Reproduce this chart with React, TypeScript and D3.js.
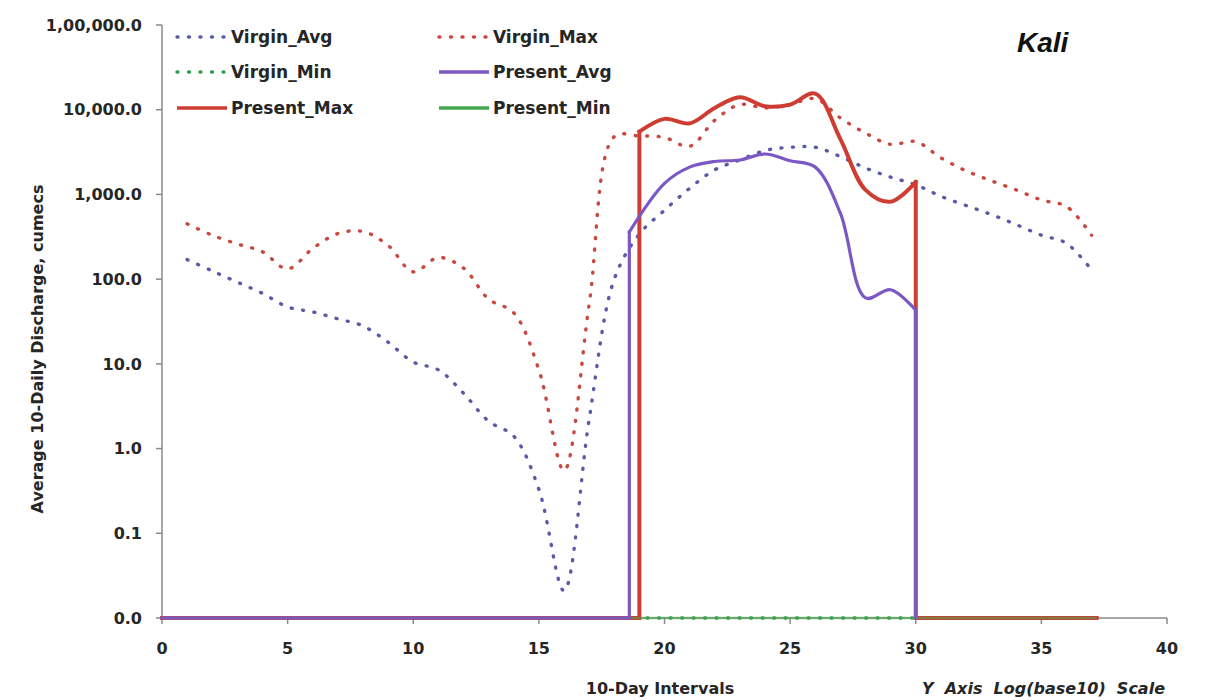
import React from "react";
import * as d3 from "d3";

// 10-day interval index (x) for the virgin-flow record
const intervals = [1, 2, 3, 4, 5, 6, 7, 8, 9, 10, 11, 12, 13, 14, 15, 16, 17, 18, 19, 20,
  21, 22, 23, 24, 25, 26, 27, 28, 29, 30, 31, 32, 33, 34, 35, 36, 37];

// Average 10-daily discharge, cumecs
const virginAvg = [170, 125, 92, 68, 47, 41, 34, 28, 18, 10.5, 8.5, 4.5, 2.1, 1.4, 0.33, 0.021, 2.2, 100,
  340, 650, 1180, 1950, 2550, 3300, 3600, 3600, 2800, 2050, 1600, 1300, 950, 740, 580, 440, 330, 265, 128];
const virginMax = [450, 330, 260, 210, 132, 230, 345, 365, 250, 122, 180, 135, 58, 40, 8.5, 0.55, 50, 4800,
  4900, 4700, 3700, 7500, 11500, 10500, 11500, 13500, 8000, 5300, 3900, 4200, 2700, 1900, 1450, 1130, 860, 720, 330];
const virginMin = [0, 0, 0, 0, 0, 0, 0, 0, 0, 0, 0, 0, 0, 0, 0, 0, 0, 0, 0, 0,
  0, 0, 0, 0, 0, 0, 0, 0, 0, 0, 0, 0, 0, 0, 0, 0, 0];

// Present-day record: flows only between onset and interval 30, zero elsewhere
const presentSpan = [0, 37.2];
const presentAvgX = [18.6, 20, 21, 22, 23, 24, 25, 26, 27, 28, 29, 30];
const presentAvg = [360, 1350, 2100, 2450, 2550, 3000, 2500, 2100, 600, 60, 75, 43];
const presentMaxX = [19, 20, 21, 22, 23, 24, 25, 26, 27, 28, 29, 30];
const presentMax = [5500, 7800, 6900, 10500, 14000, 11000, 11500, 15500, 4500, 1130, 820, 1400];

const yTickValues = [100000, 10000, 1000, 100, 10, 1, 0.1, 0.01];
const yTickLabels = ["1,00,000.0", "10,000.0", "1,000.0", "100.0", "10.0", "1.0", "0.1", "0.0"];
const xTickValues = [0, 5, 10, 15, 20, 25, 30, 35, 40];

const W = 1209;
const H = 700;
const FONT = "'DejaVu Sans', sans-serif";

const C = {
  virginAvg: "#5a5aa8",
  virginMax: "#c8473f",
  virginMin: "#2f9e48",
  presentAvg: "#7b58c4",
  presentMax: "#cf3d32",
  presentMin: "#45a84f",
  axis: "#8a8a8a",
  text: "#262626",
};

const DOT = { strokeWidth: 3.4, strokeDasharray: "1 10.5", strokeLinecap: "round" as const };

export default function App() {
  const x = d3.scaleLinear().domain([0, 40]).range([162, 1167]);
  const y = d3.scaleLog().domain([0.01, 100000]).range([618, 25]).clamp(true);
  const yFloor = y(0.01);
  const yv = (v: number) => y(Math.max(v, 0.01));

  const smooth = d3
    .line<[number, number]>()
    .x((d) => x(d[0]))
    .y((d) => yv(d[1]))
    .curve(d3.curveCatmullRom.alpha(0.5));
  const straight = d3
    .line<[number, number]>()
    .x((d) => x(d[0]))
    .y((d) => yv(d[1]));

  const pairs = (xs: number[], vs: number[]) => xs.map((xx, i) => [xx, vs[i]] as [number, number]);

  // zero flow until onset, a jump, the smoothed flood season, a drop back to zero
  const presentPath = (xs: number[], vs: number[], end: number | null) => {
    const first = xs[0];
    const last = xs[xs.length - 1];
    const lead = straight([
      [presentSpan[0], 0],
      [first, 0],
      [first, vs[0]],
    ]);
    const body = smooth(pairs(xs, vs)) as string;
    const tailPts: [number, number][] = [
      [last, vs[vs.length - 1]],
      [last, 0],
    ];
    if (end !== null) tailPts.push([end, 0]);
    const tail = straight(tailPts);
    return `${lead}${body}${tail}`;
  };

  const legend = [
    { label: "Virgin_Avg", color: C.virginAvg, dotted: true, lx: 177, ly: 37 },
    { label: "Virgin_Max", color: C.virginMax, dotted: true, lx: 439, ly: 37 },
    { label: "Virgin_Min", color: C.virginMin, dotted: true, lx: 177, ly: 72 },
    { label: "Present_Avg", color: C.presentAvg, dotted: false, lx: 439, ly: 72 },
    { label: "Present_Max", color: C.presentMax, dotted: false, lx: 177, ly: 108 },
    { label: "Present_Min", color: C.presentMin, dotted: false, lx: 439, ly: 108 },
  ];

  return (
    <svg
      width={W}
      height={H}
      viewBox={`0 0 ${W} ${H}`}
      style={{ position: "absolute", left: 0, top: 0, background: "#fff", display: "block" }}
    >
      <rect x={0} y={0} width={W} height={H} fill="#fff" />

      {/* axes */}
      <line x1={x(0)} x2={x(0)} y1={y(100000)} y2={yFloor} stroke={C.axis} strokeWidth={1.5} />
      <line x1={x(0)} x2={x(40)} y1={yFloor} y2={yFloor} stroke={C.axis} strokeWidth={1.5} />
      {yTickValues.map((v, i) => (
        <g key={`yt${i}`}>
          <line x1={x(0) - 6} x2={x(0)} y1={y(v)} y2={y(v)} stroke={C.axis} strokeWidth={1.5} />
          <text
            x={142}
            y={y(v)}
            dy="0.36em"
            textAnchor="end"
            fontFamily={FONT}
            fontWeight="bold"
            fontSize={16}
            fill={C.text}
          >
            {yTickLabels[i]}
          </text>
        </g>
      ))}
      {xTickValues.map((v) => (
        <g key={`xt${v}`}>
          <line x1={x(v)} x2={x(v)} y1={yFloor} y2={yFloor + 6} stroke={C.axis} strokeWidth={1.5} />
          <text
            x={x(v)}
            y={654}
            textAnchor="middle"
            fontFamily={FONT}
            fontWeight="bold"
            fontSize={16}
            fill={C.text}
          >
            {v}
          </text>
        </g>
      ))}

      {/* virgin-flow series */}
      <path
        d={straight(pairs(intervals, virginMin)) as string}
        fill="none"
        stroke={C.virginMin}
        {...DOT}
      />
      <path
        d={smooth(pairs(intervals, virginAvg)) as string}
        fill="none"
        stroke={C.virginAvg}
        {...DOT}
      />
      <path
        d={smooth(pairs(intervals, virginMax)) as string}
        fill="none"
        stroke={C.virginMax}
        {...DOT}
      />

      {/* present-day series */}
      <path
        d={presentPath(presentMaxX, presentMax, presentSpan[1])}
        fill="none"
        stroke={C.presentMax}
        strokeWidth={4}
        strokeLinecap="square"
      />
      <path
        d={straight([
          [presentSpan[0], 0],
          [presentSpan[1], 0],
        ]) as string}
        fill="none"
        stroke={C.presentMin}
        strokeWidth={2.5}
        strokeOpacity={0.55}
      />
      <path
        d={presentPath(presentAvgX, presentAvg, null)}
        fill="none"
        stroke={C.presentAvg}
        strokeWidth={3.2}
        strokeLinecap="square"
      />

      {/* legend */}
      {legend.map((l) => (
        <g key={l.label}>
          <line
            x1={l.lx}
            x2={l.lx + 50}
            y1={l.ly}
            y2={l.ly}
            stroke={l.color}
            {...(l.dotted ? DOT : { strokeWidth: 3.5 })}
          />
          <text
            x={l.lx + 54}
            y={l.ly}
            dy="0.36em"
            fontFamily={FONT}
            fontWeight="bold"
            fontSize={17}
            fill={C.text}
          >
            {l.label}
          </text>
        </g>
      ))}

      {/* titles */}
      <text
        x={1017}
        y={52}
        fontFamily="'Liberation Sans', Arial, sans-serif"
        fontWeight="bold"
        fontStyle="italic"
        fontSize={28}
        fill="#111"
      >
        Kali
      </text>
      <text
        transform="translate(43,349) rotate(-90)"
        textAnchor="middle"
        fontFamily={FONT}
        fontWeight="bold"
        fontSize={16}
        fill={C.text}
      >
        Average 10-Daily Discharge, cumecs
      </text>
      <text
        x={660}
        y={694}
        textAnchor="middle"
        fontFamily={FONT}
        fontWeight="bold"
        fontSize={16}
        fill={C.text}
      >
        10-Day Intervals
      </text>
      <text
        x={1165}
        y={694}
        textAnchor="end"
        fontFamily={FONT}
        fontWeight="bold"
        fontStyle="italic"
        fontSize={16}
        fill={C.text}
        style={{ whiteSpace: "pre" }}
      >
        {"Y  Axis  Log(base10)  Scale"}
      </text>
    </svg>
  );
}
